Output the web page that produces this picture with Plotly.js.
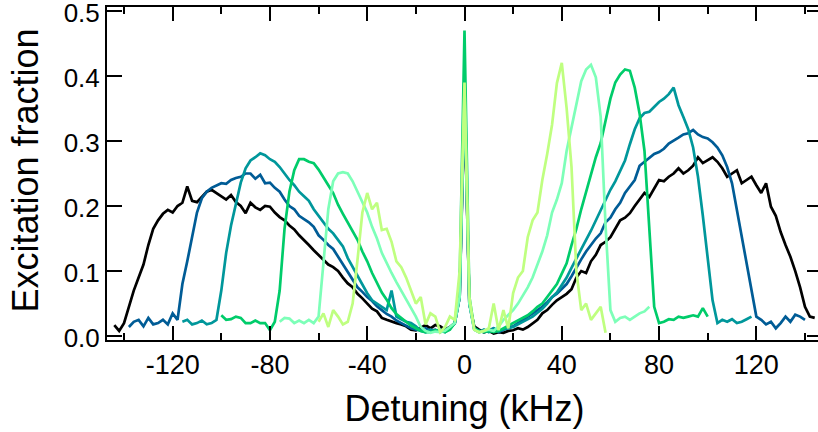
<!DOCTYPE html>
<html>
<head>
<meta charset="utf-8">
<script src="https://cdn.plot.ly/plotly-3.0.1.min.js"></script>
<style>
html,body{margin:0;padding:0;overflow:hidden;background:#fff;width:818px;height:432px;}
#chart{width:822px;height:432px;}
</style>
</head>
<body>
<div id="chart"></div>
<script>
// Detuning scan step (kHz) and start of each scan
const stepKHz = 2;
const blackStart = -144, blueStart = -138, tealStart = -116, greenStart = -100, mintStart = -76, yellowStart = -60;

const blackY = [
0.017,0.008,0.02,0.045,0.07,0.09,0.11,0.14,0.165,0.178,
0.188,0.194,0.19,0.2,0.205,0.23,0.208,0.206,0.214,0.222,
0.225,0.22,0.216,0.21,0.217,0.206,0.2,0.189,0.205,0.198,
0.194,0.2,0.199,0.19,0.183,0.178,0.17,0.164,0.155,0.148,
0.14,0.132,0.125,0.118,0.11,0.106,0.1,0.09,0.081,0.075,
0.065,0.058,0.05,0.042,0.038,0.028,0.025,0.022,0.02,0.018,
0.015,0.01,0.009,0.013,0.017,0.012,0.017,0.015,0.01,0.014,
0.02,0.06,0.36,0.05,0.015,0.01,0.006,0.008,0.004,0.006,
0.005,0.008,0.009,0.012,0.01,0.014,0.02,0.025,0.035,0.04,
0.048,0.055,0.06,0.065,0.072,0.09,0.1,0.097,0.115,0.125,
0.14,0.145,0.152,0.165,0.178,0.182,0.189,0.2,0.21,0.22,
0.214,0.228,0.24,0.238,0.245,0.25,0.258,0.25,0.255,0.262,
0.275,0.266,0.27,0.275,0.268,0.258,0.245,0.25,0.255,0.235,
0.24,0.245,0.232,0.22,0.235,0.199,0.185,0.16,0.14,0.122,
0.1,0.075,0.045,0.03,0.028
];
const blueY = [
0.014,0.022,0.025,0.015,0.028,0.018,0.02,0.025,0.018,0.035,
0.025,0.08,0.115,0.152,0.19,0.212,0.222,0.228,0.232,0.235,
0.234,0.24,0.243,0.245,0.25,0.25,0.242,0.248,0.235,0.236,
0.228,0.222,0.21,0.2,0.195,0.185,0.18,0.175,0.168,0.155,
0.148,0.14,0.134,0.122,0.112,0.098,0.088,0.075,0.068,0.06,
0.054,0.046,0.04,0.034,0.03,0.024,0.02,0.016,0.012,0.01,
0.009,0.012,0.008,0.01,0.006,0.01,0.012,0.02,0.06,0.37,
0.05,0.012,0.008,0.006,0.009,0.012,0.006,0.01,0.014,0.015,
0.02,0.025,0.03,0.035,0.04,0.045,0.052,0.06,0.065,0.073,
0.08,0.092,0.106,0.118,0.13,0.14,0.15,0.158,0.175,0.182,
0.195,0.205,0.22,0.23,0.24,0.262,0.268,0.275,0.28,0.283,
0.288,0.296,0.3,0.305,0.31,0.312,0.317,0.31,0.306,0.304,
0.298,0.29,0.278,0.26,0.235,0.194,0.155,0.115,0.07,0.03,
0.025,0.018,0.022,0.012,0.02,0.03,0.022,0.033,0.03,0.025
];
const tealY = [
0.022,0.025,0.018,0.02,0.024,0.018,0.02,0.025,0.07,0.128,
0.17,0.205,0.236,0.258,0.27,0.275,0.281,0.278,0.272,0.268,
0.26,0.25,0.24,0.232,0.222,0.215,0.208,0.195,0.185,0.175,
0.165,0.158,0.148,0.138,0.12,0.106,0.092,0.08,0.066,0.055,
0.05,0.044,0.04,0.07,0.03,0.026,0.022,0.02,0.015,0.008,
0.006,0.01,0.007,0.01,0.006,0.012,0.02,0.06,0.38,0.05,
0.01,0.006,0.01,0.006,0.012,0.008,0.01,0.012,0.014,0.018,
0.022,0.026,0.03,0.036,0.042,0.05,0.06,0.067,0.078,0.09,
0.105,0.12,0.135,0.148,0.162,0.178,0.195,0.21,0.225,0.238,
0.255,0.27,0.295,0.318,0.335,0.343,0.345,0.352,0.36,0.365,
0.372,0.382,0.355,0.337,0.318,0.29,0.245,0.185,0.12,0.055,
0.02,0.025,0.022,0.026,0.02,0.022,0.026,0.03
];
const greenY = [
0.032,0.025,0.026,0.03,0.028,0.02,0.02,0.024,0.02,0.02,
0.009,0.022,0.07,0.165,0.222,0.255,0.272,0.272,0.268,0.266,
0.256,0.245,0.232,0.22,0.202,0.188,0.175,0.162,0.148,0.13,
0.115,0.097,0.082,0.067,0.056,0.043,0.034,0.028,0.022,0.016,
0.012,0.008,0.006,0.006,0.009,0.008,0.006,0.01,0.02,0.08,
0.47,0.06,0.012,0.008,0.006,0.008,0.006,0.008,0.012,0.015,
0.02,0.024,0.028,0.032,0.038,0.045,0.05,0.06,0.07,0.08,
0.096,0.112,0.14,0.165,0.195,0.222,0.25,0.275,0.297,0.33,
0.365,0.39,0.402,0.41,0.408,0.382,0.342,0.285,0.165,0.045,
0.02,0.022,0.026,0.025,0.03,0.028,0.03,0.032,0.03,0.043,
0.03
];
const mintY = [
0.022,0.028,0.027,0.02,0.024,0.02,0.025,0.02,0.03,0.11,
0.195,0.238,0.25,0.252,0.25,0.238,0.222,0.205,0.19,0.168,
0.15,0.128,0.112,0.097,0.083,0.07,0.056,0.045,0.03,0.014,
0.008,0.005,0.007,0.006,0.008,0.014,0.02,0.06,0.38,0.05,
0.01,0.006,0.008,0.01,0.008,0.015,0.025,0.032,0.04,0.05,
0.062,0.075,0.09,0.11,0.13,0.155,0.19,0.21,0.235,0.285,
0.32,0.36,0.392,0.41,0.417,0.398,0.337,0.17,0.04,0.022,
0.028,0.03,0.025,0.03,0.035,0.038,0.045
];
const yellowY = [
0.022,0.035,0.014,0.04,0.03,0.018,0.022,0.05,0.117,0.19,
0.22,0.195,0.205,0.163,0.165,0.145,0.115,0.106,0.09,0.07,
0.05,0.06,0.018,0.035,0.03,0.006,0.014,0.03,0.025,0.1,
0.39,0.06,0.01,0.006,0.008,0.012,0.05,0.009,0.04,0.012,
0.066,0.09,0.1,0.152,0.178,0.19,0.24,0.28,0.325,0.389,
0.42,0.35,0.26,0.1,0.04,0.05,0.025,0.035,0.045,0.005
];

const xTickVals = [-120,-80,-40,0,40,80,120];
const xTickText = ['-120','-80','-40','0','40','80','120'];
const yTickVals = [0,0.1,0.2,0.3,0.4,0.5];
const yTickText = ['0.0','0.1','0.2','0.3','0.4','0.5'];
const xTitle = 'Detuning (kHz)';
const yTitle = 'Excitation fraction';

const series = [
  {y: blackY, x0: blackStart, color: '#000000'},
  {y: blueY, x0: blueStart, color: '#005c96'},
  {y: tealY, x0: tealStart, color: '#00979b'},
  {y: greenY, x0: greenStart, color: '#00cc6a'},
  {y: mintY, x0: mintStart, color: '#7dffb8'},
  {y: yellowY, x0: yellowStart, color: '#bfff80'}
];

const traces = series.map(s => ({
  type: 'scatter', mode: 'lines',
  y: s.y, x0: s.x0, dx: stepKHz,
  line: {color: s.color, width: 2.7},
  hoverinfo: 'skip', showlegend: false
}));

const font = 'Liberation Sans, Arial, Helvetica, sans-serif';
const layout = {
  width: 822, height: 432,
  margin: {l: 107, r: 0, t: 7, b: 92, pad: 0},
  paper_bgcolor: '#ffffff', plot_bgcolor: '#ffffff',
  font: {family: font, color: '#000'},
  xaxis: {
    range: [-147, 147],
    tickmode: 'array', tickvals: xTickVals, ticktext: xTickText,
    ticks: 'inside', ticklen: 14, tickwidth: 2, tickcolor: '#000',
    minor: {tickmode: 'array', tickvals: [-140,-100,-60,-20,20,60,100,140], ticks: 'inside', ticklen: 7, tickwidth: 2, tickcolor: '#000'},
    showline: true, linewidth: 2, linecolor: '#000', mirror: 'allticks',
    showgrid: false, zeroline: false, ticklabeloverflow: 'allow',
    tickfont: {size: 27, family: font},
    title: {text: xTitle, font: {size: 36, family: font}, standoff: 16}
  },
  yaxis: {
    range: [-0.006, 0.506],
    tickmode: 'array', tickvals: yTickVals, ticktext: yTickText,
    ticks: 'inside', ticklen: 15, tickwidth: 2, tickcolor: '#000',
    showline: true, linewidth: 2, linecolor: '#000', mirror: 'allticks',
    showgrid: false, zeroline: false, ticklabeloverflow: 'allow',
    ticklabelshift: 2,
    tickfont: {size: 26, family: font}
  },
  annotations: [{
    text: yTitle, textangle: -90,
    xref: 'paper', yref: 'paper', x: 0, y: 0.5,
    xanchor: 'center', yanchor: 'middle',
    xshift: -82, yshift: 3, showarrow: false,
    font: {size: 36, family: font, color: '#000'}
  }]
};

Plotly.newPlot('chart', traces, layout, {staticPlot: true, displayModeBar: false});
</script>
</body>
</html>
